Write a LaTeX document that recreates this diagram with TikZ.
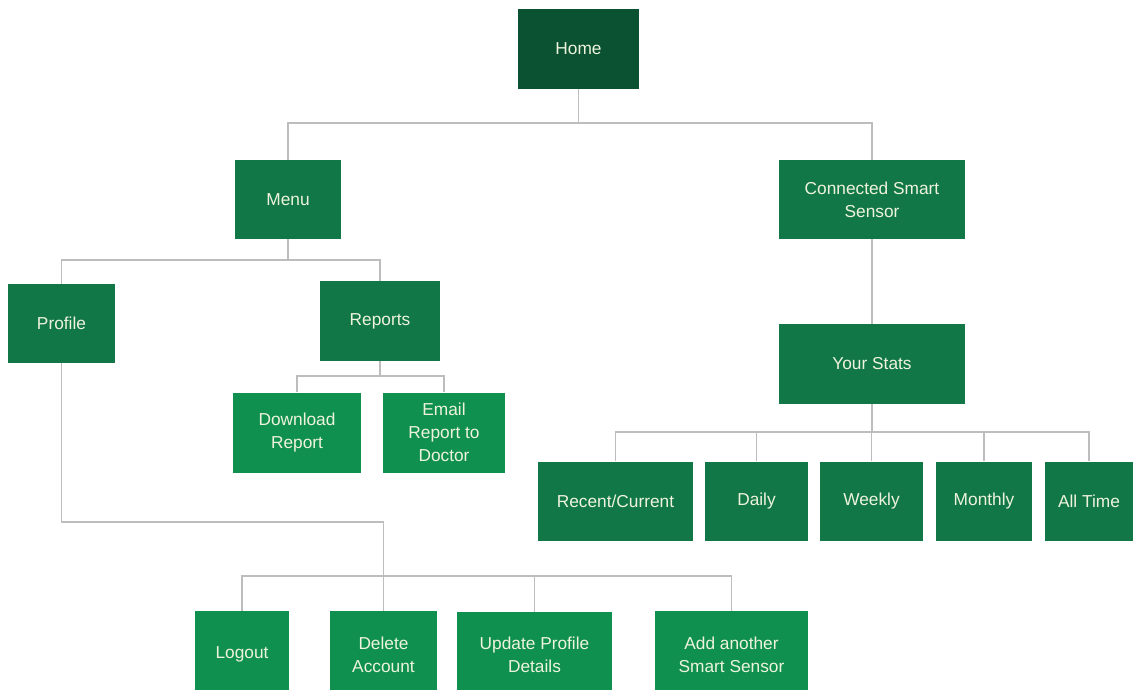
\documentclass[tikz,border=0pt]{standalone}
\usepackage{fontspec}
\setmainfont{Liberation Sans}
\definecolor{homec}{HTML}{0B5232}
\definecolor{midc}{HTML}{127747}
\definecolor{litec}{HTML}{10904F}
\definecolor{txtc}{HTML}{EEF3DC}
\definecolor{linec}{HTML}{BDBDBD}
\tikzset{
  box/.style={fill=midc, text=txtc, inner sep=2pt, align=center,
    font=\fontsize{17.3}{23}\selectfont, minimum height=79pt},
  homebox/.style={box, fill=homec},
  litebox/.style={box, fill=litec},
  conn/.style={draw=linec, line width=1.5pt}
}
\begin{document}
\begin{tikzpicture}[x=1pt,y=-1pt]
\useasboundingbox (0,0) rectangle (1133,690);
% nodes
\node[homebox, minimum width=121pt, minimum height=80pt] (home) at (578.5,49) {Home};
\node[box, minimum width=106pt] (menu) at (288,199.5) {Menu};
\node[box, minimum width=186pt] (css) at (872,199.5) {Connected Smart\\Sensor};
\node[box, minimum width=107pt] (profile) at (61.5,323.5) {Profile};
\node[box, minimum width=120pt, minimum height=80pt] (reports) at (380,321) {Reports};
\node[litebox, minimum width=128pt, minimum height=80pt] (download) at (297,432.5) {Download\\Report};
\node[litebox, minimum width=122pt, minimum height=80pt] (email) at (444,432.5) {Email\\Report to\\Doctor};
\node[box, minimum width=186pt, minimum height=80pt] (stats) at (872,364) {Your Stats};
\node[box, minimum width=155pt] (recent) at (615.5,501) {Recent/Current};
\node[box, minimum width=103pt] (daily) at (756.5,501) {Daily};
\node[box, minimum width=103pt] (weekly) at (871.5,501) {Weekly};
\node[box, minimum width=96pt] (monthly) at (984,501) {Monthly};
\node[box, minimum width=88pt] (alltime) at (1089,501) {All Time};
\node[litebox, minimum width=94pt, minimum height=87pt] (logout) at (242,654.5) {Logout};
\node[litebox, minimum width=107pt, minimum height=87pt] (delete) at (383.5,654.5) {Delete\\Account};
\node[litebox, minimum width=155pt, minimum height=86pt] (update) at (534.5,655) {Update Profile\\Details};
\node[litebox, minimum width=153pt, minimum height=87pt] (add) at (731.5,654.5) {Add another\\Smart Sensor};
% bus coordinates
\coordinate (b1) at (0,123);
\coordinate (b2) at (0,260);
\coordinate (b3) at (0,376);
\coordinate (b4) at (0,432);
\coordinate (b5) at (0,522);
\coordinate (b6) at (0,576);
% connectors
\draw[conn] (home.south) -- (home.south |- b1);
\draw[conn] (menu.north) |- (b1 -| css.north) -- (css.north);
\draw[conn] (menu.south) -- (menu.south |- b2);
\draw[conn] (profile.north) |- (b2 -| reports.north) -- (reports.north);
\draw[conn] (reports.south) -- (reports.south |- b3);
\draw[conn] (download.north) |- (b3 -| email.north) -- (email.north);
\draw[conn] (css.south) -- (stats.north);
\draw[conn] (stats.south) -- (stats.south |- b4);
\draw[conn] (recent.north) |- (b4 -| alltime.north) -- (alltime.north);
\draw[conn] (daily.north) -- (daily.north |- b4);
\draw[conn] (weekly.north) -- (weekly.north |- b4);
\draw[conn] (monthly.north) -- (monthly.north |- b4);
\draw[conn] (profile.south) |- (b5 -| delete.north) -- (delete.north);
\draw[conn] (logout.north) |- (b6 -| add.north) -- (add.north);
\draw[conn] (update.north) -- (update.north |- b6);
\end{tikzpicture}
\end{document}
